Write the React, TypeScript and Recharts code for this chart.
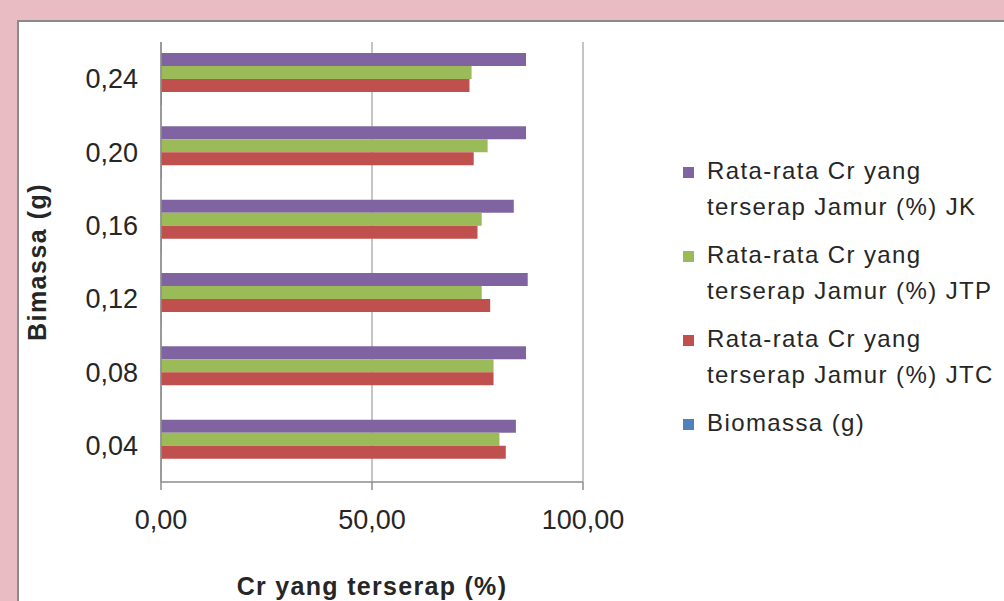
import React from 'react';
import {
  BarChart, Bar, XAxis, YAxis, CartesianGrid, Legend,
} from 'recharts';

const categories = [0.04, 0.08, 0.12, 0.16, 0.2, 0.24];
const jkValues = [84.1, 86.5, 86.9, 83.6, 86.5, 86.5];
const jtpValues = [80.2, 78.8, 76.0, 76.0, 77.4, 73.6];
const jtcValues = [81.7, 78.8, 78.0, 75.0, 74.1, 73.1];
const biomassaValues = [0.04, 0.08, 0.12, 0.16, 0.2, 0.24];
const xTicks = [0, 50, 100];
const seriesNames = [
  'Rata-rata Cr yang terserap Jamur (%) JK',
  'Rata-rata Cr yang terserap Jamur (%) JTP',
  'Rata-rata Cr yang terserap Jamur (%) JTC',
  'Biomassa (g)',
];

const data = categories.map((cat, i) => ({
  cat,
  jk: jkValues[i],
  jtp: jtpValues[i],
  jtc: jtcValues[i],
  biomassa: biomassaValues[i],
}));

const FONT = '"Liberation Sans", Arial, sans-serif';
const AXIS = '#8c8c8c';
const TEXT = '#262626';

const fmt = (v: number) => v.toFixed(2).replace('.', ',');

function LegendContent({ payload }: any) {
  // keep the series order, not alphabetical
  const items = [...(payload || [])].sort(
    (a: any, b: any) => seriesNames.indexOf(a.value) - seriesNames.indexOf(b.value),
  );
  return (
    <div style={{ fontFamily: FONT, fontSize: 24, letterSpacing: 1.4, color: TEXT }}>
      {items.map((entry: any) => (
        <div
          key={entry.value}
          style={{ position: 'relative', paddingLeft: 24, lineHeight: '36px', marginBottom: 12, width: 300 }}
        >
          <span style={{
            position: 'absolute', left: 0, top: 14, width: 11, height: 11, background: entry.color,
          }} />
          {entry.value}
        </div>
      ))}
    </div>
  );
}

export default function App() {
  return (
    <div style={{
      position: 'absolute', left: 0, top: 0, width: 1004, height: 601, overflow: 'hidden',
      background: '#e8bcc2',
    }}>
      <div style={{
        position: 'absolute', left: 17, top: 20, right: -10, bottom: -10, background: '#fff',
        borderLeft: '2px solid #8a8a8a', borderTop: '2px solid #8a8a8a',
      }} />
      <div style={{ position: 'absolute', left: 0, top: 0 }}>
        <BarChart
          width={1004}
          height={601}
          data={data}
          layout="vertical"
          margin={{ top: 42, right: 421, bottom: 0, left: 0 }}
          barSize={13}
          barGap={0}
        >
          <CartesianGrid horizontal={false} stroke={AXIS} strokeWidth={1} />
          <XAxis
            type="number"
            domain={[0, 100]}
            ticks={xTicks}
            tickFormatter={fmt}
            height={119}
            tickSize={8}
            tickMargin={20}
            axisLine={{ stroke: AXIS, strokeWidth: 1.5 }}
            tickLine={{ stroke: AXIS, strokeWidth: 1.5 }}
            tick={{ fill: TEXT, fontSize: 27, fontFamily: FONT }}
            label={{
              value: 'Cr yang terserap (%)',
              position: 'insideBottom',
              offset: 6,
              style: { fontFamily: FONT, fontSize: 25, fontWeight: 700, letterSpacing: 1.3, fill: TEXT },
            }}
          />
          <YAxis
            type="category"
            dataKey="cat"
            reversed
            width={161}
            tickFormatter={fmt}
            tickLine={false}
            tickSize={0}
            tickMargin={23}
            axisLine={{ stroke: AXIS, strokeWidth: 1.5 }}
            tick={{ fill: TEXT, fontSize: 27, fontFamily: FONT }}
            label={{
              value: 'Bimassa (g)',
              angle: -90,
              position: 'insideLeft',
              offset: 37,
              style: {
                textAnchor: 'middle', fontFamily: FONT, fontSize: 25, fontWeight: 700,
                letterSpacing: 1.5, fill: TEXT,
              },
            }}
          />
          <Legend
            layout="vertical"
            align="center"
            verticalAlign="middle"
            content={<LegendContent />}
            wrapperStyle={{ left: 683, top: 153, width: 320 }}
          />
          <Bar dataKey="jk" name={seriesNames[0]} fill="#8064a2" isAnimationActive={false} />
          <Bar dataKey="jtp" name={seriesNames[1]} fill="#9bbb59" isAnimationActive={false} />
          <Bar dataKey="jtc" name={seriesNames[2]} fill="#c0504d" isAnimationActive={false} />
          <Bar dataKey="biomassa" name={seriesNames[3]} fill="#4f81bd" isAnimationActive={false} />
        </BarChart>
      </div>
    </div>
  );
}
